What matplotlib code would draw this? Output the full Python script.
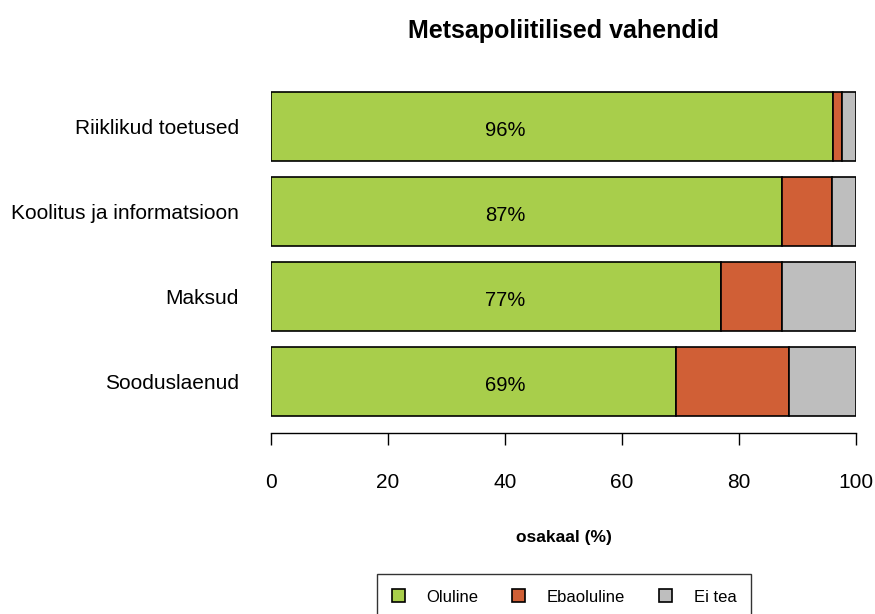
import matplotlib.pyplot as plt
from matplotlib.patches import Patch

plt.rcParams['font.family'] = ['Liberation Sans', 'DejaVu Sans']

# data (percentages)
categories = ["Riiklikud toetused", "Koolitus ja informatsioon", "Maksud", "Sooduslaenud"]
oluline = [96, 87.4, 77, 69.3]
ebaoluline = [1.6, 8.5, 10.4, 19.2]
ei_tea = [2.4, 4.1, 12.6, 11.5]
series_names = ["Oluline", "Ebaoluline", "Ei tea"]
colors = ["#A8CE4B", "#D05F36", "#BEBEBE"]

fig = plt.figure(figsize=(8.75, 6.14), dpi=100)
ax = fig.add_axes([271 / 875, 1 - 432.5 / 614, 585 / 875, 357 / 614])

pos = list(range(len(categories)))
left = [0] * len(categories)
for vals, col in zip([oluline, ebaoluline, ei_tea], colors):
    ax.barh(pos, vals, left=left, height=0.82, color=col, edgecolor="black", linewidth=1.2)
    left = [l + v for l, v in zip(left, vals)]

# percentage labels inside the green part
for p, v in zip(pos, oluline):
    ax.text(40, p + 0.05, f"{v:.0f}%", ha="center", va="center", fontsize=14.5)

ax.set_xlim(0, 100)
ax.set_ylim(3.6, -0.6)
ax.set_yticks(pos)
ax.set_yticklabels(categories, fontsize=15)
ax.tick_params(axis="y", length=0, pad=23)
ax.set_xticks([0, 20, 40, 60, 80, 100])
ax.tick_params(axis="x", direction="out", length=8.5, width=1, labelsize=15, pad=21)
for s in ["top", "right", "left"]:
    ax.spines[s].set_visible(False)
ax.spines["bottom"].set_bounds(0, 100)
ax.spines["bottom"].set_linewidth(1)

ax.set_xlabel("osakaal (%)", fontsize=12.5, fontweight="bold", labelpad=27)
ax.set_title("Metsapoliitilised vahendid", fontsize=18, fontweight="bold", pad=27)

handles = [Patch(facecolor=c, edgecolor="black", linewidth=1.2) for c in colors]
fig.legend(handles, series_names, ncol=3, loc="upper center",
           bbox_to_anchor=(564 / 875, 1 - 566 / 614), fontsize=12,
           frameon=True, fancybox=False, edgecolor="black", handlelength=0.8,
           handleheight=0.8, columnspacing=2.0, borderpad=0.9, handletextpad=1.3)

fig.savefig("out.png", dpi=100)
